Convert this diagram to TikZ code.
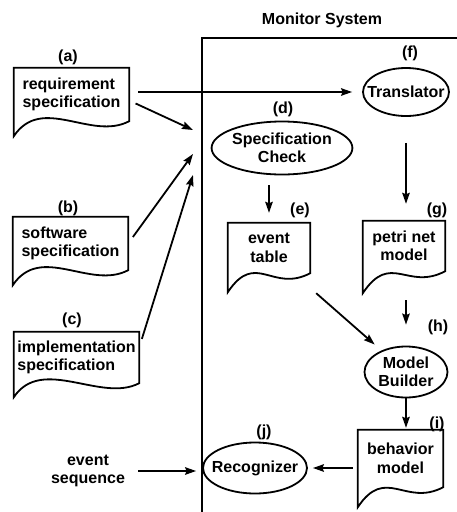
\documentclass[tikz,border=0pt]{standalone}
\usepackage{fontspec}
\setmainfont{Liberation Sans}
\usetikzlibrary{shapes.geometric,arrows.meta}

\begin{document}
\begin{tikzpicture}[x=1pt,y=-1pt,
        font=\fontsize{16}{18.5}\selectfont\bfseries,
        linea/.style={line width=1.8pt},
        doc/.style={rectangle,inner sep=0pt},
        proc/.style={ellipse,draw,line width=1.8pt,inner sep=0pt,align=center},
        flecha/.style={line width=1.8pt,-{Stealth[length=11pt,width=7.5pt,inset=1.5pt]}},
        etiq/.style={inner sep=0pt}]
        \useasboundingbox (0,0) rectangle (457,512);

        % titulo y marco
        \node (titulo) at (322,20) {Monitor System};
        \draw[linea] (202,512) -- (202,38) -- (457,38);

        % documentos
        \node[doc,align=left,minimum width=115pt,minimum height=53pt] (req) at (71.5,94.5) {requirement\\specification};
        \node[doc,align=left,minimum width=115pt,minimum height=53pt] (soft) at (70.5,243.5) {software\\specification};
        \node[doc,align=left,minimum width=125pt,minimum height=51pt] (impl) at (76.5,357.5) {implementation\\specification};
        \node[doc,align=center,minimum width=82pt,minimum height=50pt] (evtab) at (269,248) {event\\table};
        \node[doc,align=center,minimum width=82pt,minimum height=50pt] (petri) at (404,246) {petri net\\model};
        \node[doc,align=center,minimum width=85pt,minimum height=57pt] (behav) at (400.5,458.5) {behavior\\model};
        % borde ondulado
        \foreach \n/\d in {req/15,soft/15,impl/14,evtab/19,petri/22,behav/20}
            \draw[linea] ([yshift={-\d*1pt}]\n.south west) -- (\n.north west) -- (\n.north east) -- (\n.south east)
                .. controls ([xshift=-38pt,yshift=-20pt]\n.south east) and ([xshift=28pt,yshift={(42-\d)*1pt}]\n.south west)
                .. ([yshift={-\d*1pt}]\n.south west) -- cycle;

        % procesos
        \node[proc,minimum width=86pt,minimum height=48pt] (trans) at (406,92) {\makebox[0pt]{Translator}};
        \node[proc,minimum width=135pt,minimum height=53pt] (spec) at (282,148) {Specification\\Check};
        \node[proc,minimum width=83pt,minimum height=51pt] (build) at (406,372) {Model\\Builder};
        \node[proc,minimum width=104pt,minimum height=51pt] (recog) at (255,468) {\makebox[0pt]{Recognizer}};
        \node[align=center] (evseq) at (88,471) {event\\sequence};

        % etiquetas
        \foreach \l/\x/\y in {a/68/57, b/68/208, c/72/320, d/283/109, e/300/210, f/410/53, g/437/210, h/438/327, i/437/424, j/264/432}
            \node[etiq] (l\l) at (\x,\y) {(\l)};

        % flechas
        \coordinate (ea) at (193,130);
        \coordinate (eb) at (193,154);
        \coordinate (ec) at (193,175);
        \draw[flecha,shorten <=9pt,shorten >=10pt] (req.east |- trans.west) -- (trans.west);
        \draw[flecha,shorten <=7pt] ([yshift=-6pt]req.east) -- (ea);
        \draw[flecha,shorten <=8pt] (soft.east) -- (eb);
        \draw[flecha,shorten <=9pt] ([yshift=10pt]impl.east) -- (ec);
        \draw[flecha,shorten <=10pt,shorten >=10pt] (evtab.north |- spec.south) -- (evtab.north);
        \draw[flecha,shorten <=26pt,shorten >=17pt] (trans.south) -- (trans.south |- petri.north);
        \draw[flecha,shorten >=9pt] ([xshift=6pt,yshift=-20pt]evtab.south east) -- (build);
        \draw[flecha,shorten <=29pt,shorten >=21pt] (build.north |- petri.south) -- (build.north);
        \draw[flecha,shorten >=2pt] (build.south) -- (build.south |- behav.north);
        \draw[flecha,shorten <=5pt,shorten >=5pt] (behav.west |- recog.east) -- (recog.east);
        \draw[flecha,shorten <=10pt,shorten >=6pt] (evseq.east) -- (evseq.east -| recog.west);
    \end{tikzpicture}
\end{document}
